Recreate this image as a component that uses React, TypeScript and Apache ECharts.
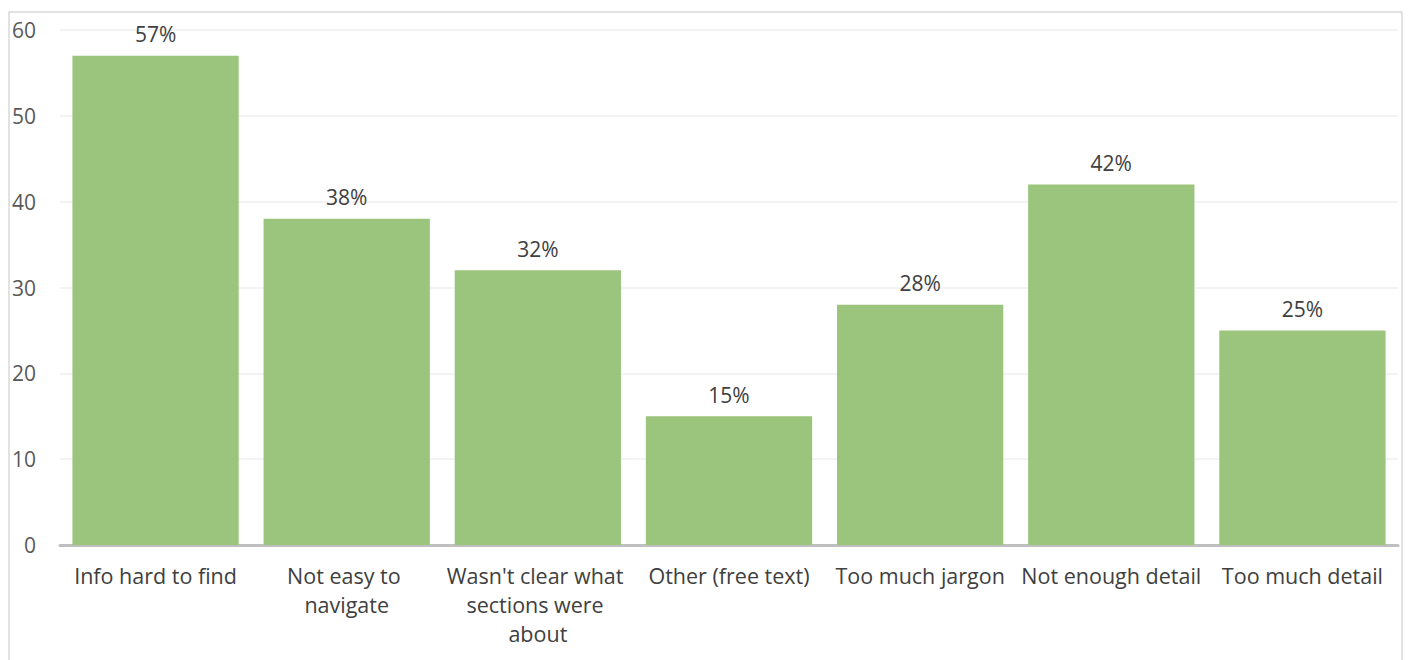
import React, { useEffect, useRef } from "react";
import * as echarts from "echarts";

const categories = [
  "Info hard to find",
  "Not easy to navigate",
  "Wasn't clear what sections were about",
  "Other (free text)",
  "Too much jargon",
  "Not enough detail",
  "Too much detail",
];
const values = [57, 38, 32, 15, 28, 42, 25];
const yTicks = { min: 0, max: 60, interval: 10 };

const FONT = "'Open Sans', 'Noto Sans', sans-serif";

export default function App() {
  const ref = useRef<HTMLDivElement>(null);
  useEffect(() => {
    if (!ref.current) return;
    const chart = echarts.init(ref.current, undefined, { renderer: "svg" });
    chart.setOption({
      animation: false,
      backgroundColor: "#ffffff",
      graphic: [
        {
          type: "rect",
          shape: { x: 9, y: 12, width: 1393, height: 700 },
          style: { fill: "none", stroke: "#d9d9d9", lineWidth: 1.5 },
          silent: true,
        },
      ],
      grid: { left: 60, right: 10, top: 30, bottom: 115 },
      xAxis: {
        type: "category",
        data: categories,
        axisLine: { show: true, lineStyle: { color: "#bfbfbf", width: 3 } },
        axisTick: { show: false },
        axisLabel: {
          color: "#404040",
          fontFamily: FONT,
          fontSize: 21.5,
          margin: 16,
          lineHeight: 29,
          width: 188,
          overflow: "break",
          interval: 0,
        },
      },
      yAxis: {
        type: "value",
        min: yTicks.min,
        max: yTicks.max,
        interval: yTicks.interval,
        axisLine: { show: false },
        axisTick: { show: false },
        splitLine: { lineStyle: { color: "#efefef", width: 1.5 } },
        axisLabel: {
          color: "#595959",
          fontFamily: FONT,
          fontSize: 21,
          margin: 24,
        },
      },
      series: [
        {
          type: "bar",
          data: values,
          barCategoryGap: "13%",
          itemStyle: { color: "#9bc47c" },
          label: {
            show: true,
            position: "top",
            distance: 11,
            formatter: (p: any) => p.value + "%",
            color: "#404040",
            fontFamily: FONT,
            fontSize: 21,
          },
        },
      ],
    });
    return () => chart.dispose();
  }, []);
  return (
    <div
      ref={ref}
      style={{ position: "fixed", left: 0, top: 0, width: 1408, height: 660 }}
    />
  );
}
